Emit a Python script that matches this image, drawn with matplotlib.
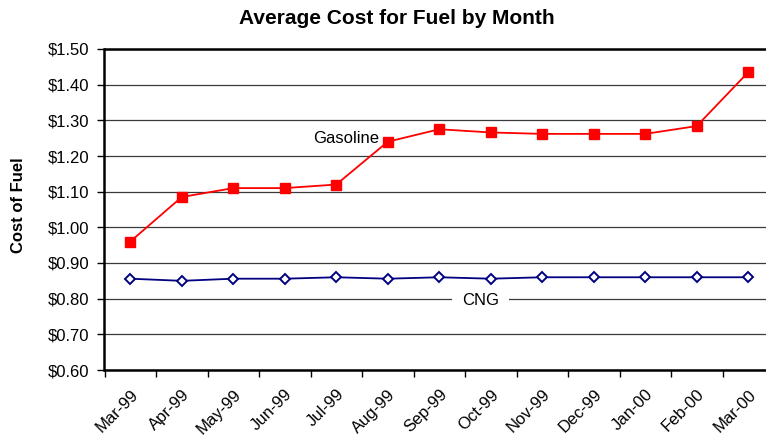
import numpy as np
import matplotlib
matplotlib.use('Agg')
import matplotlib.pyplot as plt
import matplotlib.transforms as mtransforms
from matplotlib.ticker import FixedLocator, FuncFormatter

plt.rcParams['font.family'] = ['Liberation Sans', 'DejaVu Sans']

# Données
months = ['Mar-99', 'Apr-99', 'May-99', 'Jun-99', 'Jul-99', 'Aug-99', 'Sep-99',
          'Oct-99', 'Nov-99', 'Dec-99', 'Jan-00', 'Feb-00', 'Mar-00']
gasoline = [0.96, 1.085, 1.11, 1.11, 1.12, 1.24, 1.275, 1.266, 1.262, 1.262, 1.262, 1.284, 1.435]
cng = [0.856, 0.85, 0.856, 0.856, 0.86, 0.856, 0.86, 0.856, 0.86, 0.86, 0.86, 0.86, 0.86]

x = np.arange(len(months))

fig = plt.figure(figsize=(7.66, 4.38), dpi=100)
# la zone de tracé déborde à droite, comme dans l'original
ax = fig.add_axes([104.5 / 766, (438 - 370) / 438, (774 - 104.5) / 766, (370 - 49) / 438])

ax.plot(x, gasoline, color='#FF0000', lw=1.3, marker='s', markersize=7,
        markerfacecolor='#FF0000', markeredgecolor='#FF0000', zorder=4)
ax.plot(x, cng, color='#000080', lw=1.3, marker='D', markersize=5.5,
        markerfacecolor='white', markeredgecolor='#000080', markeredgewidth=1.4, zorder=4)

ax.set_xlim(-0.5, len(months) - 0.5)
ax.set_ylim(0.60, 1.50)
ax.set_yticks(np.arange(0.60, 1.501, 0.10))
ax.yaxis.set_major_formatter(FuncFormatter(lambda v, p: f'${v:.2f}'))
ax.yaxis.grid(True, color='#3a3a3a', lw=0.9, zorder=0)
ax.set_axisbelow(True)

# graduations entre les catégories, étiquettes au centre
ax.set_xticks(x)
ax.set_xticklabels(months, rotation=45, ha='right', rotation_mode='anchor', fontsize=12)
shift = mtransforms.ScaledTranslation(-7 / 100, 0, fig.dpi_scale_trans)
for lab in ax.get_xticklabels():
    lab.set_transform(lab.get_transform() + shift)
ax.xaxis.set_minor_locator(FixedLocator(np.arange(-0.5, len(months), 1.0)))
ax.tick_params(axis='x', which='major', length=0, pad=12)
ax.tick_params(axis='x', which='minor', length=5, width=1, direction='out')
ax.tick_params(axis='y', length=5, width=1, direction='out', labelsize=12, pad=6)

for s in ['left', 'bottom', 'top']:
    ax.spines[s].set_linewidth(1.8)
    ax.spines[s].set_color('black')
ax.spines['right'].set_visible(False)

ax.set_ylabel('Cost of Fuel', fontsize=12, fontweight='bold')
ax.yaxis.set_label_coords(26 / 766, 1 - 205 / 438, transform=fig.transFigure)

fig.text(397 / 766, 1 - 19 / 438, 'Average Cost for Fuel by Month', ha='center', va='center',
         fontsize=15, fontweight='bold')

ax.text(4.2, 1.25, 'Gasoline', ha='center', va='center', fontsize=12)
ax.text(6.8, 0.795, 'CNG', ha='center', va='center', fontsize=12, zorder=2,
        bbox=dict(facecolor='white', edgecolor='none', boxstyle='square,pad=0.6'))

fig.savefig('out.png', dpi=100)
